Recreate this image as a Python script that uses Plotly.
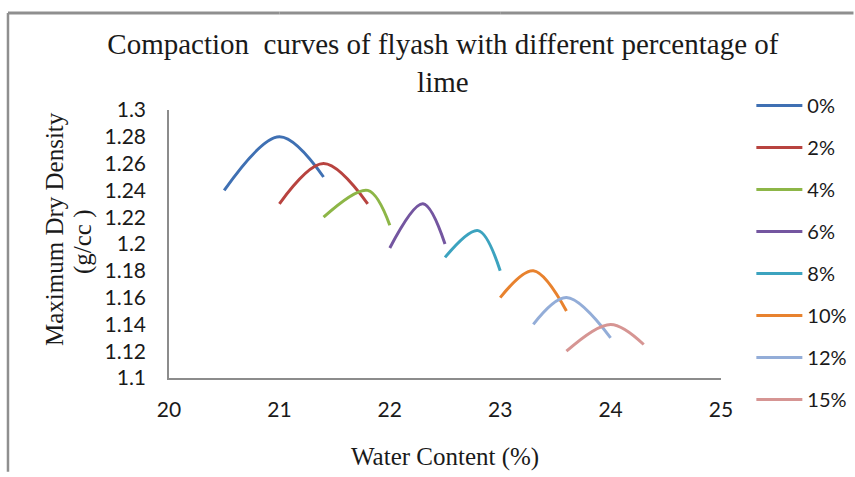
import plotly.graph_objects as go

series_names = ["0%", "2%", "4%", "6%", "8%", "10%", "12%", "15%"]
water_content = [
    [20.5, 21.0, 21.4],
    [21.0, 21.4, 21.8],
    [21.4, 21.8, 22.0],
    [22.0, 22.3, 22.5],
    [22.5, 22.8, 23.0],
    [23.0, 23.3, 23.6],
    [23.3, 23.6, 24.0],
    [23.6, 24.0, 24.3],
]
dry_density = [
    [1.24, 1.28, 1.25],
    [1.23, 1.26, 1.23],
    [1.22, 1.24, 1.214],
    [1.197, 1.23, 1.20],
    [1.19, 1.21, 1.18],
    [1.16, 1.18, 1.15],
    [1.14, 1.16, 1.13],
    [1.12, 1.14, 1.125],
]
colors = ["#3F70B3", "#B8433F", "#8DB647", "#7456A0", "#3CA3BF",
          "#E8822E", "#93ADD8", "#D69593"]

y_ticks = [1.1, 1.12, 1.14, 1.16, 1.18, 1.2, 1.22, 1.24, 1.26, 1.28, 1.3]
y_tick_text = ["1.1", "1.12", "1.14", "1.16", "1.18", "1.2", "1.22", "1.24", "1.26", "1.28", "1.3"]
x_ticks = [20, 21, 22, 23, 24, 25]

fig = go.Figure()
for i, name in enumerate(series_names):
    fig.add_trace(go.Scatter(
        x=water_content[i], y=dry_density[i], name=name, mode="lines",
        line=dict(color=colors[i], width=3, shape="spline", smoothing=1.0),
        legendgroup=name,
    ))

serif = "Liberation Serif"
sans = "Lato"

border_top = [(-0.2917, 0.2), (0.2, 0.6), (0.6, 1.0), (1.0, 1.24)]
shapes = [
    dict(type="line", xref="paper", yref="paper", layer="above",
         x0=-0.2917, x1=-0.2917, y0=-0.35, y1=1.362,
         line=dict(color="#8f8f8f", width=2.5)),
]
for a, b in border_top:
    shapes.append(dict(type="line", xref="paper", yref="paper", layer="above",
                       x0=a, x1=b, y0=1.362, y1=1.362,
                       line=dict(color="#8f8f8f", width=3)))

fig.update_layout(
    width=855, height=477,
    margin=dict(l=169, r=134, t=110, b=99, autoexpand=False),
    paper_bgcolor="white", plot_bgcolor="white",
    title=dict(
        text="Compaction  curves of flyash with different percentage of<br>lime",
        xref="container", x=0.518, xanchor="center", y=0.887, yanchor="middle",
        font=dict(family=serif, size=29, color="#1a1a1a"),
    ),
    xaxis=dict(
        range=[20, 25], tickvals=x_ticks, showgrid=False, zeroline=False,
        showline=True, linecolor="#8c8c8c", linewidth=1.5, ticks="",
        tickfont=dict(family=sans, size=21, color="#1a1a1a"),
        ticklabelstandoff=12,
    ),
    yaxis=dict(
        range=[1.1, 1.3], tickvals=y_ticks, ticktext=y_tick_text,
        showgrid=False, zeroline=False,
        showline=True, linecolor="#8c8c8c", linewidth=1.5, ticks="",
        tickfont=dict(family=sans, size=21, color="#1a1a1a"),
        ticklabelstandoff=17,
    ),
    legend=dict(
        x=1.055, y=1.09, xanchor="left", yanchor="top",
        font=dict(family=sans, size=20, color="#1a1a1a"),
        tracegroupgap=13, itemwidth=46, bgcolor="rgba(0,0,0,0)",
        maxheight=460,
    ),
    showlegend=True,
    annotations=[
        dict(text="Maximum Dry Density", xref="paper", yref="paper",
             x=-0.2065, y=0.556, xanchor="center", yanchor="middle", textangle=-90,
             showarrow=False, font=dict(family=serif, size=25, color="#1a1a1a")),
        dict(text="(g/cc )", xref="paper", yref="paper",
             x=-0.1558, y=0.511, xanchor="center", yanchor="middle", textangle=-90,
             showarrow=False, font=dict(family=serif, size=25, color="#1a1a1a")),
        dict(text="Water Content (%)", xref="paper", yref="paper",
             x=0.5, y=-0.295, xanchor="center", yanchor="middle",
             showarrow=False, font=dict(family=serif, size=25, color="#1a1a1a")),
    ],
    shapes=shapes,
)

fig.write_html("out.html")
